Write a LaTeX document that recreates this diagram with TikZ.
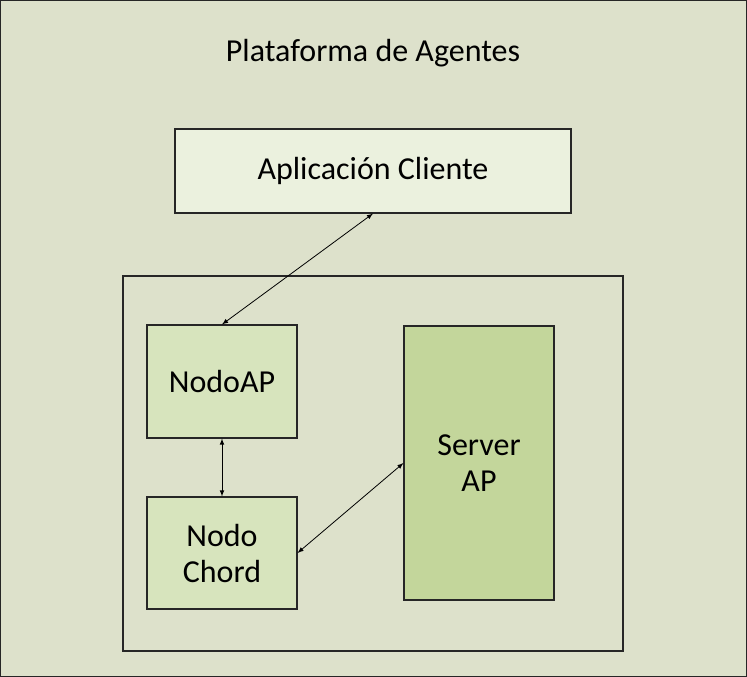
\documentclass[tikz,border=0pt]{standalone}
\usepackage{fontspec}
\setmainfont{Carlito}
\usetikzlibrary{arrows,calc}

\definecolor{fondo}{HTML}{DDE1CB}
\definecolor{cliente}{HTML}{EBF1DE}
\definecolor{nodo}{HTML}{D7E4BD}
\definecolor{server}{HTML}{C3D69B}

\tikzset{
	caja/.style={draw=black!85,line width=0.8pt,align=center,inner sep=0pt,
		font=\fontsize{24}{27}\selectfont},
}

\begin{document}
\begin{tikzpicture}[>=latex,x=0.75pt,y=-0.75pt,line width=0.6pt]

\useasboundingbox (0,0) rectangle (747,677);
\fill[fondo] (0,0) rectangle (747,677);
\draw[black!85,line width=0.8pt] (0.5,0.5) rectangle (746.5,676.5);

\node[font=\fontsize{24}{27}\selectfont] (titulo) at (373,53) {Plataforma de Agentes};

\node[caja,fill=cliente,minimum width=396*0.75pt,minimum height=84*0.75pt]
	(cliente) at (373,171) {Aplicación Cliente};

\node[draw=black!85,line width=0.8pt,minimum width=500*0.75pt,minimum height=375*0.75pt]
	(marco) at (373,463.5) {};

\node[caja,fill=nodo,minimum width=150*0.75pt,minimum height=113*0.75pt]
	(nodoap) at (222,381.5) {NodoAP};
\node[caja,fill=nodo,minimum width=150*0.75pt,minimum height=112*0.75pt]
	(chord) at (222,553) {Nodo\\Chord};
\node[caja,fill=server,minimum width=150*0.75pt,minimum height=274*0.75pt]
	(server) at (479,463) {Server\\AP};

\draw[<->] (nodoap.north)--(cliente.south);
\draw[<->] (nodoap.south)--(chord.north);
\draw[<->] (chord.east)--(server.west);

\end{tikzpicture}
\end{document}
